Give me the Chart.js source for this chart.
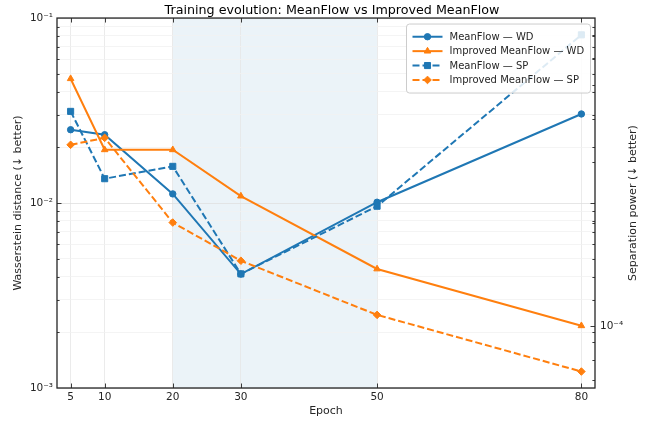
<!DOCTYPE html>
<html>
<head>
<meta charset="utf-8">
<script src="https://cdn.jsdelivr.net/npm/chart.js@4.4.1/dist/chart.umd.min.js"></script>
<style>
  html, body { margin: 0; padding: 0; background: #fff; }
  #chart { display: block; }
</style>
</head>
<body>
<canvas id="chart" width="664" height="423"></canvas>
<script>
// Chart data
const epochs = [5, 10, 20, 30, 50, 80];
const meanflowWD = [0.0249, 0.0234, 0.0112, 0.00413, 0.0101, 0.0303];
const improvedWD = [0.047, 0.0194, 0.0194, 0.0109, 0.0044, 0.00217];
const meanflowSP = [4.2e-4, 2.68e-4, 2.91e-4, 1.42e-4, 2.23e-4, 7.0e-4];
const improvedSP = [3.36e-4, 3.52e-4, 2.0e-4, 1.55e-4, 1.08e-4, 7.4e-5];

const xTicks = [5, 10, 20, 30, 50, 80];
const shadeRange = [20, 50];
const rightTitle = "Separation power (\u2193 better)";

const BLUE = "#1f77b4";
const ORANGE = "#ff7f0e";
const TEXT = "#262626";

Chart.defaults.font.family = "'DejaVu Sans', sans-serif";
Chart.defaults.color = TEXT;

function isPow10(v) {
  const l = Math.log10(v);
  return Math.abs(l - Math.round(l)) < 1e-9;
}

// 1..9 x 10^k ticks between lo and hi
function logTicks(lo, hi) {
  const out = [];
  for (let e = Math.floor(Math.log10(lo)); e <= Math.ceil(Math.log10(hi)); e++) {
    for (let s = 1; s <= 9; s++) {
      const v = Number((s * Math.pow(10, e)).toPrecision(6));
      if (v >= lo * 0.9999 && v <= hi * 1.0001) out.push(v);
    }
  }
  return out;
}

const SUP = { "-": "\u207B", "0": "\u2070", "1": "\u00B9", "2": "\u00B2", "3": "\u00B3", "4": "\u2074", "5": "\u2075" };
function powLabel(v) {
  const e = String(Math.round(Math.log10(v)));
  return "10" + e.split("").map((c) => SUP[c]).join("");
}

const toPoints = (vals) => epochs.map((e, i) => ({ x: e, y: vals[i] }));

// Shaded band, inward ticks, spines, right title and legend
const frame = {
  id: "frame",
  beforeDraw(chart) {
    const { ctx, chartArea } = chart;
    const x = chart.scales.x;
    const a = x.getPixelForValue(shadeRange[0]);
    const b = x.getPixelForValue(shadeRange[1]);
    ctx.save();
    ctx.fillStyle = "rgba(31,119,180,0.09)";
    ctx.fillRect(a, chartArea.top, b - a, chartArea.bottom - chartArea.top);
    ctx.restore();
  },
  afterDatasetsDraw(chart) {
    const { ctx, chartArea } = chart;
    const { left, right, top, bottom } = chartArea;
    ctx.save();
    ctx.strokeStyle = TEXT;
    ctx.lineWidth = 0.9;
    ctx.beginPath();
    chart.scales.x.ticks.forEach((t) => {
      const px = Math.round(chart.scales.x.getPixelForValue(t.value)) + 0.5;
      ctx.moveTo(px, bottom); ctx.lineTo(px, bottom - 4.5);
      ctx.moveTo(px, top); ctx.lineTo(px, top + 4.5);
    });
    chart.scales.y.ticks.forEach((t) => {
      const py = Math.round(chart.scales.y.getPixelForValue(t.value)) + 0.5;
      if (py < top + 1 || py > bottom - 1) return;
      const len = isPow10(t.value) ? 4.5 : 2.6;
      ctx.moveTo(left, py); ctx.lineTo(left + len, py);
      ctx.moveTo(right, py); ctx.lineTo(right - len, py);
    });
    chart.scales.y2.ticks.forEach((t) => {
      const py = Math.round(chart.scales.y2.getPixelForValue(t.value)) + 0.5;
      if (py < top + 1 || py > bottom - 1) return;
      const len = isPow10(t.value) ? 4.5 : 2.6;
      ctx.moveTo(right, py); ctx.lineTo(right - len, py);
    });
    ctx.stroke();
    ctx.lineWidth = 1.3;
    ctx.strokeRect(left, top, right - left, bottom - top);
    ctx.restore();
  },
  afterDraw(chart) {
    const { ctx, chartArea } = chart;

    // right axis title, reading bottom to top
    ctx.save();
    ctx.translate(633.5, (chartArea.top + chartArea.bottom) / 2);
    ctx.rotate(-Math.PI / 2);
    ctx.fillStyle = TEXT;
    ctx.font = "11px 'DejaVu Sans'";
    ctx.textAlign = "center";
    ctx.textBaseline = "middle";
    ctx.fillText(rightTitle, 0, 0);
    ctx.restore();

    const x0 = chartArea.right - 188.5;
    const y0 = chartArea.top + 6;
    const w = 184, h = 69;
    ctx.save();
    ctx.beginPath();
    ctx.roundRect(x0, y0, w, h, 3);
    ctx.fillStyle = "rgba(255,255,255,0.85)";
    ctx.fill();
    ctx.strokeStyle = "#cccccc";
    ctx.lineWidth = 1;
    ctx.stroke();
    chart.data.datasets.forEach((ds, i) => {
      const y = y0 + 12.7 + i * 14.4;
      ctx.strokeStyle = ds.borderColor;
      ctx.fillStyle = ds.borderColor;
      ctx.lineWidth = ds.borderWidth;
      ctx.setLineDash(ds.borderDash || []);
      ctx.beginPath();
      ctx.moveTo(x0 + 6, y);
      ctx.lineTo(x0 + 36, y);
      ctx.stroke();
      ctx.setLineDash([]);
      ctx.lineWidth = 1;
      Chart.helpers.drawPoint(ctx, { pointStyle: ds.pointStyle, radius: ds.pointRadius, borderWidth: 1, rotation: 0 }, x0 + 21, y);
      ctx.fillStyle = TEXT;
      ctx.font = "10px 'DejaVu Sans'";
      ctx.textBaseline = "middle";
      ctx.textAlign = "left";
      ctx.fillText(ds.label, x0 + 43, y + 0.5);
    });
    ctx.restore();
  },
};

const line = (label, vals, color, style, radius, dashed, axis, order) => ({
  label,
  data: toPoints(vals),
  borderColor: color,
  backgroundColor: color,
  borderWidth: 2,
  borderDash: dashed ? [7, 3] : [],
  pointStyle: style,
  pointRadius: radius,
  pointBorderWidth: 1,
  pointBackgroundColor: color,
  pointBorderColor: color,
  tension: 0,
  yAxisID: axis,
  order,
});

new Chart(document.getElementById("chart"), {
  type: "line",
  data: {
    datasets: [
      line("MeanFlow \u2014 WD", meanflowWD, BLUE, "circle", 3.2, false, "y", 4),
      line("Improved MeanFlow \u2014 WD", improvedWD, ORANGE, "triangle", 3.8, false, "y", 3),
      line("MeanFlow \u2014 SP", meanflowSP, BLUE, "rect", 4.3, true, "y2", 2),
      line("Improved MeanFlow \u2014 SP", improvedSP, ORANGE, "rectRot", 3.8, true, "y2", 1),
    ],
  },
  plugins: [frame],
  options: {
    responsive: false,
    devicePixelRatio: 1,
    animation: false,
    layout: { padding: 0 },
    plugins: {
      legend: { display: false },
      tooltip: { enabled: false },
      title: {
        display: true,
        text: "Training evolution: MeanFlow vs Improved MeanFlow",
        color: "#000",
        font: { size: 12.7, weight: "normal" },
        padding: { top: 2.8, bottom: 0 },
      },
    },
    scales: {
      x: {
        type: "linear",
        min: 3,
        max: 82,
        afterBuildTicks: (s) => { s.ticks = xTicks.map((v) => ({ value: v })); },
        afterFit: (s) => { s.height = 35; },
        ticks: { font: { size: 10.5 }, padding: 3, maxRotation: 0, autoSkip: false, callback: (v) => String(v) },
        grid: { color: "#e6e6e6", lineWidth: 0.8, drawTicks: false },
        border: { display: false },
        title: { display: true, text: "Epoch", font: { size: 11 }, padding: { top: 0, bottom: 5 } },
      },
      y: {
        type: "logarithmic",
        position: "left",
        min: 1e-3,
        max: 1e-1,
        afterBuildTicks: (s) => { s.ticks = logTicks(1e-3, 1e-1).map((v) => ({ value: v })); },
        afterFit: (s) => { s.width = 57; },
        ticks: { font: { size: 10.5 }, padding: 4, autoSkip: false, callback: (v) => (isPow10(v) ? powLabel(v) : "") },
        grid: {
          drawTicks: false,
          lineWidth: 0.8,
          color: (c) => (c.tick && isPow10(c.tick.value) ? "#e0e0e0" : "#f1f1f1"),
        },
        border: { display: false },
        title: { display: true, text: "Wasserstein distance (\u2193 better)", font: { size: 11 }, padding: { top: 11.7 } },
      },
      y2: {
        type: "logarithmic",
        position: "right",
        min: 6.63e-5,
        max: 7.83e-4,
        afterBuildTicks: (s) => { s.ticks = logTicks(6.63e-5, 7.83e-4).map((v) => ({ value: v })); },
        afterFit: (s) => { s.width = 69; },
        ticks: { font: { size: 10.5 }, padding: 5, autoSkip: false, callback: (v) => (isPow10(v) ? powLabel(v) : "") },
        grid: { drawOnChartArea: false, drawTicks: false },
        border: { display: false },
      },
    },
  },
});
</script>
</body>
</html>
